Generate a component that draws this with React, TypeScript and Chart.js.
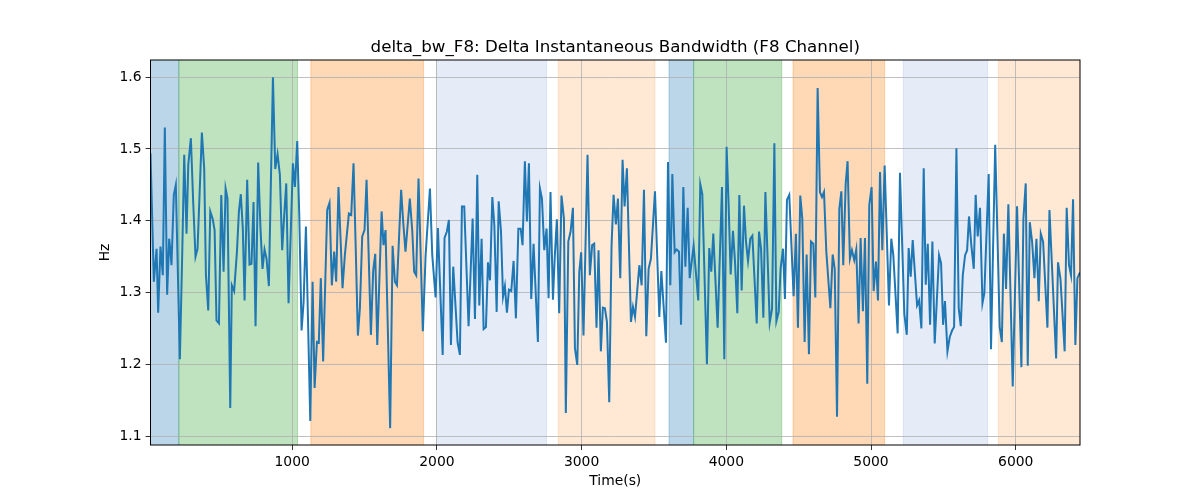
import React, { useRef, useEffect } from "react";
import { Chart, ChartConfiguration, registerables } from "chart.js";
Chart.register(...registerables);

// time (s) of each sample
const times = [
  21, 44, 63, 74, 90, 106, 120, 136, 150, 157, 166, 182, 196, 224, 240, 254, 270, 282, 300, 316,
  332, 346, 376, 392, 404, 420, 434, 450, 464, 477, 494, 510, 526, 540, 553, 572, 583, 599, 618, 632,
  645, 659, 671, 689, 705, 719, 733, 747, 765, 781, 795, 809, 823, 839, 867, 883, 899, 915, 931, 945,
  959, 975, 991, 1005, 1019, 1035, 1049, 1065, 1079, 1095, 1125, 1141, 1155, 1171, 1184, 1198, 1214, 1242, 1258, 1274,
  1290, 1304, 1320, 1348, 1364, 1392, 1408, 1424, 1438, 1454, 1468, 1484, 1500, 1514, 1544, 1560, 1574, 1588, 1618, 1631,
  1645, 1677, 1694, 1710, 1724, 1753, 1767, 1783, 1813, 1830, 1843, 1857, 1873, 1903, 1922, 1952, 1968, 1991, 2007, 2040,
  2053, 2069, 2083, 2097, 2113, 2127, 2143, 2159, 2173, 2189, 2219, 2247, 2263, 2279, 2293, 2309, 2323, 2339, 2353, 2367,
  2383, 2397, 2413, 2427, 2443, 2457, 2470, 2484, 2498, 2514, 2530, 2546, 2563, 2579, 2592, 2608, 2622, 2636, 2652, 2668,
  2698, 2712, 2726, 2742, 2758, 2772, 2785, 2802, 2815, 2829, 2845, 2861, 2878, 2891, 2908, 2924, 2940, 2954, 2970, 2984,
  2997, 3013, 3041, 3057, 3073, 3087, 3103, 3117, 3133, 3147, 3161, 3175, 3191, 3207, 3221, 3237, 3251, 3267, 3283, 3297,
  3313, 3341, 3355, 3369, 3399, 3415, 3431, 3447, 3463, 3479, 3507, 3537, 3551, 3583, 3597, 3613, 3627, 3643, 3657, 3673,
  3687, 3703, 3717, 3733, 3747, 3774, 3806, 3820, 3834, 3866, 3882, 3896, 3910, 3940, 3970, 3986, 4002, 4016, 4030, 4046,
  4060, 4076, 4090, 4106, 4122, 4136, 4150, 4166, 4180, 4210, 4226, 4240, 4256, 4270, 4300, 4316, 4332, 4346, 4362, 4375,
  4392, 4405, 4419, 4435, 4465, 4481, 4495, 4511, 4525, 4541, 4555, 4571, 4585, 4601, 4615, 4631, 4647, 4661, 4675, 4691,
  4719, 4735, 4749, 4765, 4781, 4795, 4808, 4825, 4838, 4854, 4868, 4884, 4898, 4914, 4928, 4944, 4958, 4974, 4988, 5004,
  5018, 5034, 5048, 5062, 5078, 5094, 5124, 5140, 5154, 5184, 5200, 5230, 5247, 5260, 5274, 5288, 5318, 5332, 5348, 5364,
  5378, 5392, 5408, 5424, 5440, 5470, 5484, 5498, 5511, 5528, 5544, 5560, 5574, 5590, 5606, 5620, 5634, 5650, 5664, 5677,
  5693, 5710, 5723, 5737, 5753, 5770, 5783, 5813, 5829, 5858, 5889, 5904, 5918, 5933, 5949, 5979, 6009, 6039, 6053, 6069,
  6083, 6097, 6113, 6129, 6143, 6159, 6173, 6189, 6219, 6233, 6279, 6292, 6309, 6338, 6352, 6368, 6382, 6396, 6412, 6426,
  6444,
];

// delta bandwidth (Hz)
const deltaBw = [
  1.494, 1.315, 1.361, 1.272, 1.364, 1.324, 1.530, 1.297, 1.375, 1.361, 1.338, 1.436, 1.450, 1.207, 1.352, 1.492, 1.382, 1.478, 1.515, 1.426,
  1.350, 1.361, 1.523, 1.473, 1.324, 1.275, 1.413, 1.403, 1.387, 1.261, 1.257, 1.436, 1.329, 1.445, 1.431, 1.139, 1.310, 1.302, 1.356, 1.413,
  1.437, 1.389, 1.289, 1.457, 1.339, 1.340, 1.426, 1.253, 1.481, 1.389, 1.333, 1.360, 1.347, 1.309, 1.600, 1.472, 1.493, 1.464, 1.359, 1.408,
  1.452, 1.285, 1.389, 1.480, 1.447, 1.511, 1.408, 1.247, 1.287, 1.392, 1.121, 1.315, 1.167, 1.231, 1.230, 1.320, 1.204, 1.415, 1.425, 1.310,
  1.357, 1.315, 1.447, 1.306, 1.352, 1.410, 1.408, 1.480, 1.371, 1.240, 1.278, 1.378, 1.387, 1.457, 1.241, 1.331, 1.354, 1.227, 1.413, 1.366,
  1.387, 1.111, 1.365, 1.315, 1.310, 1.443, 1.399, 1.357, 1.431, 1.385, 1.329, 1.324, 1.459, 1.246, 1.352, 1.445, 1.352, 1.293, 1.390, 1.213,
  1.376, 1.385, 1.401, 1.227, 1.336, 1.287, 1.231, 1.213, 1.420, 1.420, 1.253, 1.403, 1.263, 1.464, 1.282, 1.375, 1.249, 1.252, 1.342, 1.317,
  1.433, 1.394, 1.273, 1.427, 1.385, 1.294, 1.309, 1.272, 1.304, 1.302, 1.344, 1.264, 1.389, 1.389, 1.366, 1.483, 1.399, 1.480, 1.291, 1.368,
  1.231, 1.445, 1.431, 1.359, 1.389, 1.292, 1.440, 1.290, 1.352, 1.402, 1.271, 1.435, 1.403, 1.132, 1.371, 1.385, 1.418, 1.222, 1.199, 1.329,
  1.356, 1.240, 1.492, 1.324, 1.366, 1.368, 1.251, 1.359, 1.218, 1.279, 1.278, 1.259, 1.147, 1.366, 1.436, 1.395, 1.431, 1.320, 1.485, 1.420,
  1.473, 1.259, 1.280, 1.266, 1.338, 1.310, 1.443, 1.239, 1.333, 1.347, 1.441, 1.266, 1.330, 1.230, 1.482, 1.310, 1.465, 1.356, 1.360, 1.357,
  1.255, 1.447, 1.336, 1.418, 1.320, 1.365, 1.289, 1.451, 1.437, 1.200, 1.362, 1.329, 1.382, 1.251, 1.447, 1.207, 1.503, 1.422, 1.325, 1.386,
  1.343, 1.271, 1.436, 1.303, 1.421, 1.371, 1.344, 1.375, 1.379, 1.257, 1.385, 1.361, 1.265, 1.440, 1.258, 1.277, 1.508, 1.260, 1.273, 1.333,
  1.361, 1.291, 1.429, 1.436, 1.295, 1.382, 1.251, 1.435, 1.403, 1.231, 1.353, 1.214, 1.371, 1.368, 1.293, 1.585, 1.440, 1.433, 1.440, 1.357,
  1.278, 1.353, 1.333, 1.127, 1.417, 1.441, 1.338, 1.452, 1.483, 1.347, 1.359, 1.345, 1.360, 1.257, 1.376, 1.274, 1.376, 1.173, 1.422, 1.447,
  1.302, 1.343, 1.289, 1.468, 1.359, 1.477, 1.282, 1.375, 1.352, 1.243, 1.467, 1.270, 1.241, 1.362, 1.322, 1.373, 1.282, 1.289, 1.250, 1.473,
  1.311, 1.368, 1.255, 1.371, 1.229, 1.352, 1.341, 1.255, 1.288, 1.218, 1.238, 1.247, 1.252, 1.501, 1.278, 1.253, 1.324, 1.352, 1.359, 1.406,
  1.366, 1.333, 1.436, 1.378, 1.418, 1.285, 1.299, 1.465, 1.221, 1.506, 1.252, 1.231, 1.382, 1.305, 1.423, 1.169, 1.420, 1.196, 1.403, 1.452,
  1.198, 1.398, 1.371, 1.320, 1.375, 1.288, 1.382, 1.371, 1.251, 1.415, 1.208, 1.342, 1.319, 1.218, 1.418, 1.338, 1.324, 1.430, 1.227, 1.320,
  1.328,
];

// shaded segments (start / end in seconds) and their kind
const spanStart = [21, 217, 1129, 1997, 2839, 3604, 3774, 4461, 5223, 5880];
const spanEnd = [217, 1037, 1908, 2758, 3507, 3774, 4383, 5094, 5806, 6444];
const spanKind = [0, 1, 2, 3, 4, 0, 1, 2, 3, 4];

const xTicks = [1000, 2000, 3000, 4000, 5000, 6000];
const yTicks = [1.1, 1.2, 1.3, 1.4, 1.5, 1.6];

const kindColors = [
  "rgba(31,119,180,0.3)",
  "rgba(44,160,44,0.3)",
  "rgba(255,127,14,0.3)",
  "rgba(40,100,200,0.12)",
  "rgba(255,127,14,0.18)",
];

const FONT = "'DejaVu Sans', sans-serif";

const overlay = {
  id: "overlay",
  beforeDraw(chart: any) {
    const { ctx, chartArea: a, scales } = chart;
    ctx.save();
    ctx.fillStyle = "#fff";
    ctx.fillRect(0, 0, chart.width, chart.height);
    ctx.beginPath();
    ctx.rect(a.left, a.top, a.right - a.left, a.bottom - a.top);
    ctx.clip();
    spanStart.forEach((s, i) => {
      const x0 = scales.x.getPixelForValue(s);
      const x1 = scales.x.getPixelForValue(spanEnd[i]);
      ctx.fillStyle = kindColors[spanKind[i]];
      ctx.strokeStyle = kindColors[spanKind[i]];
      ctx.lineWidth = 1;
      ctx.fillRect(x0, a.top, x1 - x0, a.bottom - a.top);
      ctx.strokeRect(x0, a.top - 2, x1 - x0, a.bottom - a.top + 4);
    });
    ctx.restore();
  },
  afterDatasetsDraw(chart: any) {
    const { ctx, chartArea: a } = chart;
    ctx.save();
    ctx.strokeStyle = "#000";
    ctx.lineWidth = 1;
    ctx.strokeRect(a.left, a.top, a.right - a.left, a.bottom - a.top);
    ctx.restore();
  },
  afterDraw(chart: any) {
    const { ctx, chartArea: a } = chart;
    const cx = (a.left + a.right) / 2;
    ctx.save();
    ctx.fillStyle = "#000";
    ctx.textAlign = "center";
    ctx.font = `16.7px ${FONT}`;
    ctx.textBaseline = "alphabetic";
    ctx.fillText("delta_bw_F8: Delta Instantaneous Bandwidth (F8 Channel)", cx, 52);
    ctx.font = `13.9px ${FONT}`;
    ctx.textBaseline = "middle";
    ctx.fillText("Time(s)", cx, 481);
    ctx.translate(105, (a.top + a.bottom) / 2);
    ctx.rotate(-Math.PI / 2);
    ctx.fillText("Hz", 0, 0);
    ctx.restore();
  },
};

const DeltaBwChart: React.FC = () => {
  const chartRef = useRef<HTMLCanvasElement>(null);

  useEffect(() => {
    document.body.style.margin = "0";
    if (!chartRef.current) return;
    const tickFont = { family: FONT, size: 13.9 };
    const config: ChartConfiguration = {
      type: "line",
      data: {
        datasets: [
          {
            label: "delta_bw_F8",
            data: times.map((t, i) => ({ x: t, y: deltaBw[i] })),
            borderColor: "#1f77b4",
            borderWidth: 2,
            pointRadius: 0,
            tension: 0,
            fill: false,
          },
        ],
      },
      options: {
        responsive: false,
        animation: false,
        devicePixelRatio: 1,
        layout: { padding: { left: 0, right: 120, top: 60, bottom: 0 } },
        plugins: {
          legend: { display: false },
          title: { display: false },
          tooltip: { enabled: false },
        },
        scales: {
          x: {
            type: "linear",
            min: times[0],
            max: times[times.length - 1],
            afterFit: (s: any) => {
              s.height = 55;
            },
            afterBuildTicks: (s: any) => {
              s.ticks = xTicks.map((v) => ({ value: v }));
            },
            grid: { color: "#b0b0b0", lineWidth: 0.8, tickColor: "#000", tickLength: 5 },
            border: { display: false },
            ticks: {
              font: tickFont,
              color: "#000",
              padding: 4,
              maxRotation: 0,
              autoSkip: false,
              callback: (v: any) => String(v),
            },
          },
          y: {
            type: "linear",
            min: 1.0875,
            max: 1.624,
            afterFit: (s: any) => {
              s.width = 150.5;
            },
            afterBuildTicks: (s: any) => {
              s.ticks = yTicks.map((v) => ({ value: v }));
            },
            grid: { color: "#b0b0b0", lineWidth: 0.8, tickColor: "#000", tickLength: 5 },
            border: { display: false },
            ticks: {
              font: tickFont,
              color: "#000",
              padding: 4,
              autoSkip: false,
              callback: (v: any) => Number(v).toFixed(1),
            },
          },
        },
      },
      plugins: [overlay],
    };

    const chart = new Chart(chartRef.current, config);
    return () => {
      chart.destroy();
    };
  }, []);

  return (
    <div style={{ width: 1200, height: 500 }}>
      <canvas ref={chartRef} width={1200} height={500}></canvas>
    </div>
  );
};

export default function App() {
  return <DeltaBwChart />;
}
